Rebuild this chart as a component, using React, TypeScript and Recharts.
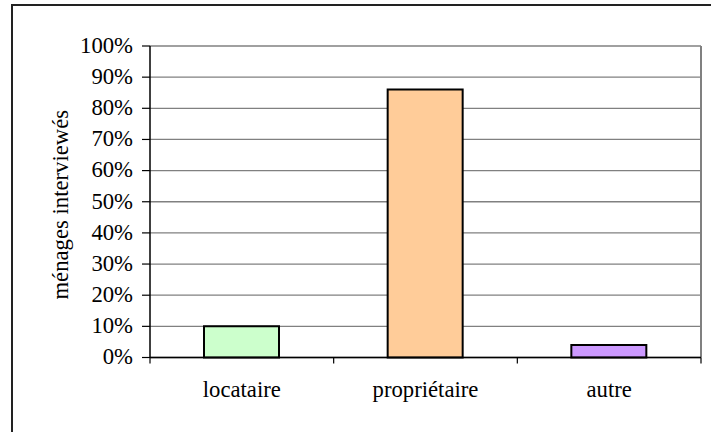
import React from 'react';
import { BarChart, Bar, XAxis, YAxis, CartesianGrid, ReferenceLine, Label, Cell } from 'recharts';

const categories = ['locataire', 'propriétaire', 'autre'];
const values = [10, 86, 4];
const colors = ['#CCFFCC', '#FFCC99', '#CC99FF'];
const yTicks = [0, 10, 20, 30, 40, 50, 60, 70, 80, 90, 100];
const xTicks = [0, 0.5, 1, 1.5, 2, 2.5, 3];
const yLabel = 'ménages interviewés';

const data = categories.map((name, i) => ({ name, pos: i + 0.5, value: values[i] }));

const FONT = 'Liberation Serif';
const FS = 22.7;
const textStyle = { fontFamily: FONT, fontSize: FS };

const XTick = (props: any) => {
  const { x, y, payload } = props;
  const v = payload.value as number;
  if (Number.isInteger(v)) {
    return <line x1={x} x2={x} y1={y} y2={y + 6} stroke="#000" strokeWidth={1.2} />;
  }
  const name = categories[Math.floor(v)];
  return (
    <text x={x} y={y + 39} textAnchor="middle" style={textStyle} fill="#000">
      {name}
    </text>
  );
};

const YTick = (props: any) => {
  const { x, y, payload } = props;
  return (
    <text x={x} y={y} dy="0.3em" textAnchor="end" style={textStyle} fill="#000">
      {`${payload.value}%`}
    </text>
  );
};

const YLabel = (props: any) => {
  const vb = props.viewBox || { x: 0, y: 0, width: 0, height: 0 };
  const cx = vb.x + 68;
  const cy = vb.y + vb.height / 2 + 3;
  return (
    <text
      x={cx}
      y={cy}
      transform={`rotate(-90 ${cx} ${cy})`}
      textAnchor="middle"
      style={textStyle}
      fill="#000"
    >
      {yLabel}
    </text>
  );
};

export default function App() {
  return (
    <div style={{ position: 'absolute', left: 0, top: 0, width: 711, height: 432, background: '#fff', overflow: 'hidden' }}>
      <div
        style={{
          position: 'absolute',
          left: 11,
          top: 4,
          width: 720,
          height: 450,
          border: '2px solid #222',
          boxSizing: 'border-box',
        }}
      />
      <div style={{ position: 'absolute', left: 0, top: 0 }}>
        <BarChart width={711} height={432} data={data} margin={{ top: 46, right: 10, bottom: 14.5, left: 0 }}>
          <CartesianGrid horizontal vertical={false} stroke="#808080" strokeWidth={1.3} />
          <XAxis
            dataKey="pos"
            type="number"
            domain={[0, 3]}
            ticks={xTicks}
            interval={0}
            tickLine={false}
            tickSize={0}
            tickMargin={0}
            height={60}
            axisLine={{ stroke: '#000', strokeWidth: 1.5 }}
            tick={<XTick />}
          />
          <YAxis
            type="number"
            domain={[0, 100]}
            ticks={yTicks}
            interval={0}
            width={150}
            tickSize={8}
            tickMargin={9}
            tickLine={{ stroke: '#000', strokeWidth: 1.2 }}
            axisLine={{ stroke: '#000', strokeWidth: 1.5 }}
            tick={<YTick />}
          >
            <Label content={<YLabel />} />
          </YAxis>
          <ReferenceLine x={3} stroke="#808080" strokeWidth={2} />
          <Bar dataKey="value" barSize={75} stroke="#000" strokeWidth={2} isAnimationActive={false}>
            {data.map((d, i) => (
              <Cell key={d.name} fill={colors[i]} />
            ))}
          </Bar>
        </BarChart>
      </div>
    </div>
  );
}
